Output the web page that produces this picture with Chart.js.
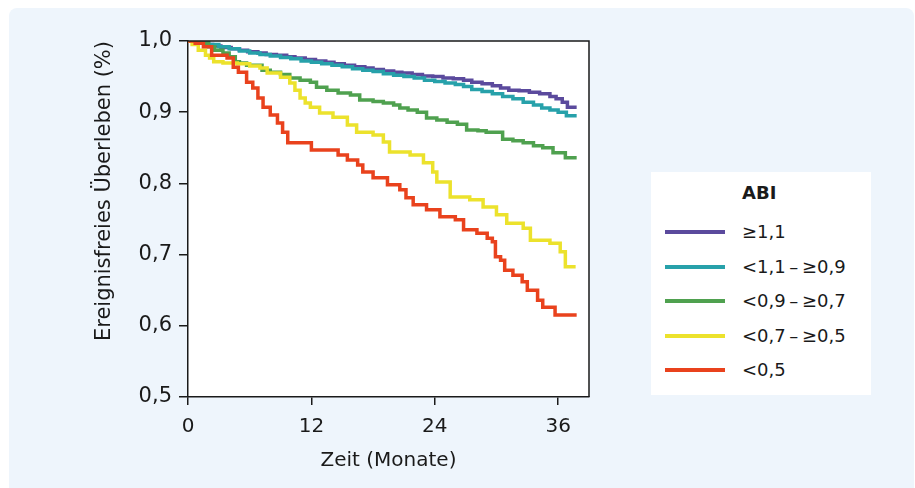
<!DOCTYPE html>
<html>
<head>
<meta charset="utf-8">
<script src="https://cdn.jsdelivr.net/npm/chart.js@4.4.1/dist/chart.umd.min.js"></script>
<style>
  html, body { margin: 0; padding: 0; background: #ffffff; }
  body { width: 915px; height: 488px; position: relative; overflow: hidden; font-family: "DejaVu Sans", sans-serif; color: #1a1a1a; }
  #panel { position: absolute; left: 9px; top: 8px; width: 905px; height: 490px; background: #eef5fc; border-radius: 8px; }
  #wrap { position: absolute; left: 0; top: 0; width: 620px; height: 488px; }
  #legend { position: absolute; left: 651px; top: 172px; width: 220px; height: 223px; background: #ffffff; }
  #legend .ttl { position: absolute; left: 91px; top: 10px; font-weight: bold; font-size: 18px; }
  .item { position: absolute; left: 0; height: 24px; width: 220px; }
  .item .sw { position: absolute; left: 14px; top: 10px; width: 60px; height: 4px; }
  .item .lb { position: absolute; left: 91px; top: 0; font-size: 18px; line-height: 24px; white-space: nowrap; }
</style>
</head>
<body>
<div id="panel"></div>
<div id="wrap"><canvas id="c" width="620" height="488"></canvas></div>
<div id="legend"><div class="ttl" id="ltitle"></div></div>
<script>
// ---- data ----
const legendTitle = "ABI";
const seriesLabels = ["≥1,1", "<1,1\u2009–\u2009≥0,9", "<0,9\u2009–\u2009≥0,7", "<0,7\u2009–\u2009≥0,5", "<0,5"];
const seriesColors = ["#5b4a9d", "#27a1aa", "#4fa14f", "#ece22c", "#e9421d"];

const xTicks = [0, 12, 24, 36];
const yTicks = [0.5, 0.6, 0.7, 0.8, 0.9, 1.0];
const xTitle = "Zeit (Monate)";
const yTitle = "Ereignisfreies Überleben (%)";

const abi1Times  = [0,0.8,1.6,2.4,3.2,4.2,5.0,5.8,6.8,7.6,8.6,9.6,10.4,11.4,12.4,13.4,14.2,15.2,16.2,17.2,18.0,19.0,20.0,20.8,21.8,22.8,23.8,24.8,25.8,26.8,27.6,28.6,29.6,30.4,31.2,32.2,33.2,34.2,35.2,35.8,36.4,36.9,37.8];
const abi1Values = [1.0,0.998,0.995,0.993,0.991,0.989,0.987,0.985,0.983,0.981,0.980,0.978,0.976,0.974,0.972,0.970,0.968,0.966,0.964,0.962,0.960,0.958,0.956,0.955,0.953,0.951,0.950,0.948,0.947,0.945,0.942,0.940,0.937,0.934,0.931,0.930,0.928,0.926,0.922,0.919,0.914,0.907,0.907];

const abi2Times  = [0,1.0,2.0,3.0,4.0,5.0,6.0,7.0,8.0,9.0,10.0,11.0,12.0,13.0,14.0,15.0,16.0,17.0,18.0,19.0,20.0,21.0,22.0,23.0,24.0,25.0,26.0,26.8,27.6,28.6,29.6,30.6,31.6,32.6,33.6,34.4,35.2,36.0,36.8,37.8];
const abi2Values = [1.0,0.998,0.995,0.992,0.989,0.986,0.983,0.981,0.979,0.977,0.975,0.972,0.970,0.968,0.966,0.964,0.961,0.959,0.957,0.954,0.952,0.950,0.948,0.945,0.943,0.941,0.939,0.936,0.932,0.929,0.926,0.922,0.919,0.914,0.910,0.906,0.903,0.900,0.895,0.895];

const abi3Times  = [0,1.0,2.0,2.6,3.4,4.0,4.6,5.0,5.7,7.2,8.0,9.0,9.9,10.9,11.9,12.5,13.5,14.6,15.8,16.7,18.0,19.0,20.0,20.6,21.4,22.3,23.2,24.2,25.2,26.2,27.1,28.2,29.0,30.6,31.6,32.6,33.6,34.5,35.5,36.7,37.8];
const abi3Values = [1.0,0.997,0.992,0.987,0.983,0.978,0.971,0.969,0.966,0.959,0.956,0.953,0.948,0.945,0.942,0.935,0.931,0.927,0.924,0.917,0.915,0.913,0.910,0.906,0.903,0.900,0.892,0.889,0.886,0.883,0.875,0.874,0.872,0.862,0.860,0.857,0.853,0.850,0.843,0.836,0.836];

const abi4Times  = [0,0.4,1.0,1.7,2.1,2.5,3.4,4.8,6.0,7.0,7.7,9.0,9.9,10.4,10.9,11.4,11.9,12.8,14.1,15.5,16.4,18.0,19.0,19.6,21.6,22.9,23.8,24.2,25.5,27.4,28.7,30.0,31.0,32.6,33.3,35.2,36.2,36.7,37.7];
const abi4Values = [1.0,0.995,0.987,0.980,0.976,0.971,0.969,0.968,0.965,0.962,0.955,0.949,0.941,0.931,0.920,0.913,0.907,0.899,0.893,0.882,0.872,0.868,0.858,0.844,0.840,0.829,0.816,0.802,0.781,0.777,0.767,0.756,0.744,0.737,0.720,0.716,0.704,0.683,0.683];

const abi5Times  = [0,0.7,1.5,2.3,3.8,4.4,4.9,5.7,6.3,6.8,7.3,8.0,8.7,9.2,9.7,12.0,14.6,15.5,16.5,17.0,18.0,19.4,20.6,21.2,21.9,23.2,24.5,26.0,26.8,28.1,29.1,29.6,29.9,30.4,30.8,31.6,32.5,33.0,34.0,34.5,35.7,37.8];
const abi5Values = [1.0,0.997,0.992,0.980,0.976,0.963,0.956,0.942,0.934,0.920,0.907,0.896,0.885,0.872,0.857,0.847,0.840,0.833,0.826,0.816,0.808,0.798,0.791,0.780,0.770,0.763,0.753,0.749,0.735,0.730,0.723,0.718,0.697,0.692,0.678,0.671,0.662,0.650,0.636,0.626,0.615,0.615];

const allTimes = [abi1Times, abi2Times, abi3Times, abi4Times, abi5Times];
const allValues = [abi1Values, abi2Values, abi3Values, abi4Values, abi5Values];

// ---- legend (HTML) ----
const legend = document.getElementById('legend');
document.getElementById('ltitle').textContent = legendTitle;
seriesLabels.forEach((lab, i) => {
  const d = document.createElement('div');
  d.className = 'item';
  d.style.top = (48 + i * 34.5) + 'px';
  d.innerHTML = '<div class="sw"></div><div class="lb"></div>';
  d.querySelector('.sw').style.background = seriesColors[i];
  d.querySelector('.lb').textContent = lab;
  legend.appendChild(d);
});

// ---- chart ----
const FONT = "'DejaVu Sans', sans-serif";
const INK = '#1a1a1a';

const datasets = seriesLabels.map((lab, i) => ({
  label: lab,
  data: allTimes[i].map((t, k) => ({ x: t, y: allValues[i][k] })),
  borderColor: seriesColors[i],
  backgroundColor: seriesColors[i],
  borderWidth: 3.5,
  pointRadius: 0,
  stepped: 'before',
  fill: false,
  borderJoinStyle: 'miter'
})).reverse();

const framePlugin = {
  id: 'frame',
  beforeDraw(chart) {
    const { ctx, chartArea: a } = chart;
    ctx.save();
    ctx.fillStyle = '#ffffff';
    ctx.fillRect(a.left, a.top, a.right - a.left, a.bottom - a.top);
    ctx.restore();
  },
  afterDatasetsDraw(chart) {
    const { ctx, chartArea: a } = chart;
    ctx.save();
    ctx.strokeStyle = INK;
    ctx.lineWidth = 1.5;
    ctx.beginPath();
    ctx.moveTo(a.left, a.top);
    ctx.lineTo(a.right, a.top);
    ctx.lineTo(a.right, a.bottom);
    ctx.stroke();
    ctx.restore();
  }
};

new Chart(document.getElementById('c'), {
  type: 'line',
  data: { datasets },
  plugins: [framePlugin],
  options: {
    responsive: false,
    animation: false,
    layout: { padding: { left: 0, top: 41, right: 31, bottom: 0 } },
    plugins: { legend: { display: false }, tooltip: { enabled: false } },
    scales: {
      x: {
        type: 'linear', min: 0, max: 39,
        afterFit(s) { s.height = 91; },
        afterBuildTicks(s) { s.ticks = xTicks.map(v => ({ value: v })); },
        ticks: { font: { family: FONT, size: 20 }, color: INK, padding: 10 },
        grid: { drawOnChartArea: false, drawTicks: true, tickLength: 8, color: INK, lineWidth: 1.5 },
        border: { display: true, color: INK, width: 1.5 },
        title: { display: true, text: xTitle, font: { family: FONT, size: 20 }, color: INK, padding: { top: 0, bottom: 15 } }
      },
      y: {
        type: 'linear', min: 0.5, max: 1.0,
        afterFit(s) { s.width = 188; },
        afterBuildTicks(s) { s.ticks = yTicks.map(v => ({ value: v })); },
        ticks: { font: { family: FONT, size: 21 }, color: INK, padding: 7,
                 callback: v => v.toFixed(1).replace('.', ',') },
        grid: { drawOnChartArea: false, drawTicks: true, tickLength: 9, color: INK, lineWidth: 1.5 },
        border: { display: true, color: INK, width: 1.5 },
        title: { display: true, text: yTitle, align: 'end', font: { family: FONT, size: 21 }, color: INK, padding: { top: 92, bottom: 0 } }
      }
    }
  }
});
</script>
</body>
</html>
